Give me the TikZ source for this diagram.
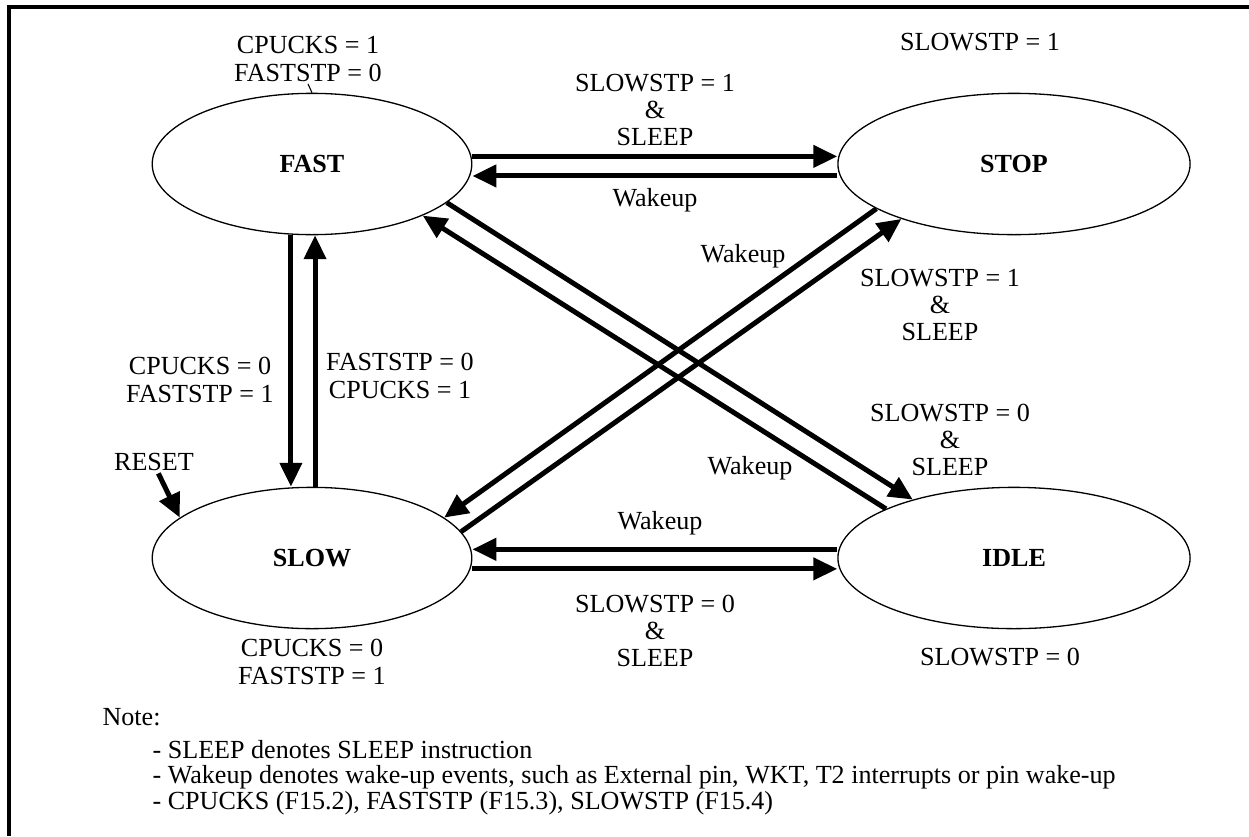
\documentclass[tikz,border=0pt]{standalone}
\usepackage{fontspec}
\setmainfont{Liberation Serif}
\usetikzlibrary{shapes.geometric, arrows.meta, positioning}
\tikzstyle{txt}=[font=\fontsize{12}{12.5}\selectfont, inner sep=1pt, align=center]
\tikzstyle{state}=[draw, ellipse, line width=0.6pt, minimum height=65pt, inner sep=0pt, font=\fontsize{12}{12.5}\selectfont\bfseries]
\tikzstyle{trans}=[line width=2.3pt, -{Triangle[length=11pt, width=10pt]}]

\begin{document}
\begin{tikzpicture}[x=0.46pt, y=-0.46pt]
    \useasboundingbox (0,0) rectangle (1249,836);
    \draw[line width=1.4pt] (1249,7) -- (9,7) -- (9,836);

    % states
    \node (fast)[state, minimum width=147pt] at (312,164) {FAST};
    \node (stop)[state, minimum width=162pt] at (1014,164) {STOP};
    \node (slow)[state, minimum width=147pt] at (312,558) {SLOW};
    \node (idle)[state, minimum width=162pt] at (1014,558) {IDLE};

    \node (fastcond)[txt] at (308,59) {CPUCKS = 1\\FASTSTP = 0};
    \node (stopcond)[txt] at (980,42) {SLOWSTP = 1};
    \node (slowcond)[txt] at (312,662) {CPUCKS = 0\\FASTSTP = 1};
    \node (idlecond)[txt] at (1000,657) {SLOWSTP = 0};
    \draw[line width=0.5pt] (fastcond.south) -- (fast.north);

    % fast <-> stop
    \draw[trans] ([yshift=3.5pt]fast.east) -- ([yshift=3.5pt]stop.west);
    \draw[trans] ([yshift=-5.5pt]stop.west) -- ([yshift=-5.5pt]fast.east);
    \node (fs)[txt] at (655,110) {SLOWSTP = 1\\\&\\SLEEP};
    \node (sf)[txt] at (655,200) {Wakeup};

    % slow <-> idle
    \draw[trans] ([yshift=4pt]idle.west) -- ([yshift=4pt]slow.east);
    \draw[trans] ([yshift=-5pt]slow.east) -- ([yshift=-5pt]idle.west);
    \node (is)[txt] at (660,523) {Wakeup};
    \node (si)[txt] at (655,631) {SLOWSTP = 0\\\&\\SLEEP};

    % fast <-> slow
    \draw[trans] ([xshift=-9.7pt]fast.south) -- ([xshift=-9.7pt]slow.north);
    \draw[trans] ([xshift=1.4pt]slow.north) -- ([xshift=1.4pt]fast.south);
    \node (fsl)[txt] at (200,380) {CPUCKS = 0\\FASTSTP = 1};
    \node (slf)[txt] at (400,376) {FASTSTP = 0\\CPUCKS = 1};

    % diagonals
    \draw[trans] (fast.-16) -- (idle.150);
    \draw[trans] (idle.159) -- (fast.-25);
    \draw[trans] (stop.198) -- (slow.17.6);
    \draw[trans] (slow.10.4) -- (stop.206);
    \node (stsl)[txt] at (743,256) {Wakeup};
    \node (slst)[txt] at (940,305) {SLOWSTP = 1\\\&\\SLEEP};
    \node (fi)[txt] at (950,440) {SLOWSTP = 0\\\&\\SLEEP};
    \node (if)[txt] at (750,468) {Wakeup};

    % reset
    \node (reset)[txt] at (154,462) {RESET};
    \draw[trans] ([xshift=2pt]reset.south) -- (slow.163);

    % notes
    \node (note)[txt, anchor=west] at (100,717) {Note:};
    \node (n1)[txt, anchor=west] at (150,750) {- SLEEP denotes SLEEP instruction};
    \node (n2)[txt, anchor=west] at (150,777) {- Wakeup denotes wake-up events, such as External pin, WKT, T2 interrupts or pin wake-up};
    \node (n3)[txt, anchor=west] at (150,803) {- CPUCKS (F15.2), FASTSTP (F15.3), SLOWSTP (F15.4)};
\end{tikzpicture}
\end{document}
